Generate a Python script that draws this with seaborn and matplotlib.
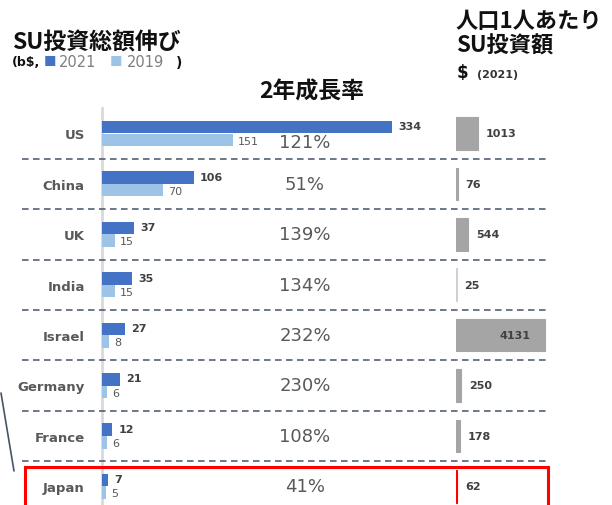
import matplotlib
matplotlib.use("Agg")
import matplotlib.pyplot as plt
import matplotlib.transforms as mtransforms
from matplotlib.patches import Rectangle
from matplotlib.lines import Line2D
import seaborn as sns
import pandas as pd

# ---------------- data ----------------
countries = ["US", "China", "UK", "India", "Israel", "Germany", "France", "Japan"]
inv_2021 = [334, 106, 37, 35, 27, 21, 12, 7]
inv_2019 = [151, 70, 15, 15, 8, 6, 6, 5]
growth = ["121%", "51%", "139%", "134%", "232%", "230%", "108%", "41%"]
per_capita = [1013, 76, 544, 25, 4131, 250, 178, 62]
years = ["2021", "2019"]

sns.set_theme(style="white")
plt.rcParams['font.family'] = ['DejaVu Sans', 'Noto Sans CJK JP']
CJK = ['Noto Sans CJK JP', 'DejaVu Sans']

W, H = 612, 506
fig = plt.figure(figsize=(W / 100, H / 100), dpi=100)

def fx(px):
    return px / W

def fy(py):
    return 1 - py / H

# row geometry (pixels)
row0, step = 134.5, 50.4
top_px = row0 - 0.5 * step
ylim_bottom = 7 + (H - (row0 + 7 * step)) / step

# ------------- left chart -------------
L0, L1 = 102, 420
axL = fig.add_axes([fx(L0), fy(H), fx(L1) - fx(L0), fy(top_px) - fy(H)])
df = pd.DataFrame({
    "country": countries * 2,
    "value": inv_2021 + inv_2019,
    "year": [years[0]] * len(countries) + [years[1]] * len(countries),
})
sns.barplot(data=df, y="country", x="value", hue="year", hue_order=years,
            orient="h", palette=["#4472C4", "#9DC3E6"], width=0.5, gap=0,
            saturation=1, legend=False, ax=axL, linewidth=0, errorbar=None)
scale = 0.868  # px per unit
axL.set_xlim(0, (L1 - L0) / scale)
axL.set_ylim(ylim_bottom, -0.5)
axL.set_xlabel("")
axL.set_ylabel("")
axL.set_xticks([])
for s in ["top", "right", "bottom"]:
    axL.spines[s].set_visible(False)
axL.spines["left"].set_color("#D9D9D9")
axL.spines["left"].set_linewidth(2)
axL.spines["left"].set_zorder(0.5)
axL.tick_params(axis="y", length=0, pad=12.5)
for t in axL.get_yticklabels():
    t.set_fontweight("bold")
    t.set_color("#595959")
    t.set_fontsize(9.5)

off = mtransforms.offset_copy
for i, (a, b) in enumerate(zip(inv_2021, inv_2019)):
    axL.text(a, i - 0.14, str(a), transform=off(axL.transData, fig=fig, x=6, y=0, units="dots"),
             ha="left", va="center", fontsize=8, fontweight="bold", color="#404040")
    axL.text(b, i + 0.14, str(b), transform=off(axL.transData, fig=fig, x=5, y=0, units="dots"),
             ha="left", va="center", fontsize=8, color="#595959")

blend = mtransforms.blended_transform_factory(axL.transAxes, axL.transData)
pct_x = (305 - L0) / (L1 - L0)
for i, g in enumerate(growth):
    dy = 0.17 if i == 0 else 0.0
    axL.text(pct_x, i + dy, g, transform=blend, ha="center", va="center",
             fontsize=13, color="#595959")

# dashed separators
x_start = (22 - L0) / (L1 - L0)
x_end = (548 - L0) / (L1 - L0)
for i in range(len(countries) - 1):
    ln = Line2D([x_start, x_end], [i + 0.5, i + 0.5], transform=blend,
                color="#44546A", lw=1.1, dashes=(4.3, 2.9), clip_on=False)
    axL.add_line(ln)

# ------------- right chart -------------
R0, R1 = 456, 548
axR = fig.add_axes([fx(R0), fy(H), fx(R1) - fx(R0), fy(top_px) - fy(H)])
pc_colors = ["#A5A5A5"] * len(countries)
pc_colors[3] = "#D0D0D0"
pc_colors[-1] = "#FF0000"
dfp = pd.DataFrame({"country": countries, "value": per_capita})
sns.barplot(data=dfp, y="country", x="value", hue="country", orient="h",
            palette=pc_colors, width=0.65, saturation=1, legend=False, ax=axR,
            linewidth=0.8, edgecolor="#999999", errorbar=None)
for p, c in zip(axR.patches, pc_colors):
    p.set_edgecolor(c)
axR.set_xlim(0, max(per_capita) * (R1 - R0) / 89)
axR.set_ylim(ylim_bottom, -0.5)
axR.axis("off")
vmax = max(per_capita)
for i, v in enumerate(per_capita):
    if v == vmax:
        axR.text(v, i, str(v), transform=off(axR.transData, fig=fig, x=-15, y=0, units="dots"),
                 ha="right", va="center", fontsize=8, fontweight="bold", color="#404040")
    else:
        axR.text(v, i, str(v), transform=off(axR.transData, fig=fig, x=8, y=0, units="dots"),
                 ha="left", va="center", fontsize=8, fontweight="bold", color="#404040")

# ------------- headers -------------
fig.text(fx(12), fy(42), "SU投資総額伸び", family=CJK, fontsize=16.5, fontweight="bold",
         color="#111111", ha="left", va="center")
fig.text(fx(12), fy(63), "(b$,", fontsize=9, fontweight="bold", color="#111111",
         ha="left", va="center")
fig.text(fx(44), fy(63), "■", family=CJK, fontsize=9, color="#4472C4", ha="left", va="center")
fig.text(fx(59), fy(63), years[0], fontsize=10.5, color="#7F7F7F", ha="left", va="center")
fig.text(fx(110), fy(63), "■", family=CJK, fontsize=9, color="#9DC3E6", ha="left", va="center")
fig.text(fx(127), fy(63), years[1], fontsize=10.5, color="#7F7F7F", ha="left", va="center")
fig.text(fx(176), fy(63), ")", fontsize=10, fontweight="bold", color="#111111",
         ha="left", va="center")

fig.text(fx(312), fy(92), "2年成長率", family=CJK, fontsize=16.5, fontweight="bold",
         color="#111111", ha="center", va="center")

fig.text(fx(456), fy(21), "人口1人あたり", family=CJK, fontsize=16, fontweight="bold",
         color="#111111", ha="left", va="center")
fig.text(fx(456), fy(46), "SU投資額", family=CJK, fontsize=16, fontweight="bold",
         color="#111111", ha="left", va="center")
fig.text(fx(457), fy(73), "$", fontsize=12, fontweight="bold", color="#111111",
         ha="left", va="center")
fig.text(fx(477), fy(75), "(2021)", fontsize=8, fontweight="bold", color="#333333",
         ha="left", va="center")

# ------------- decorations -------------
fig.add_artist(Rectangle((fx(25), fy(H + 5)), fx(548) - fx(25), fy(468) - fy(H + 5),
                         transform=fig.transFigure, fill=False, edgecolor="#FF0000",
                         lw=2.2, clip_on=False))
fig.add_artist(Line2D([fx(1), fx(14)], [fy(394), fy(472)], transform=fig.transFigure,
                      color="#44546A", lw=1.2))

fig.savefig("out.png", dpi=100)
